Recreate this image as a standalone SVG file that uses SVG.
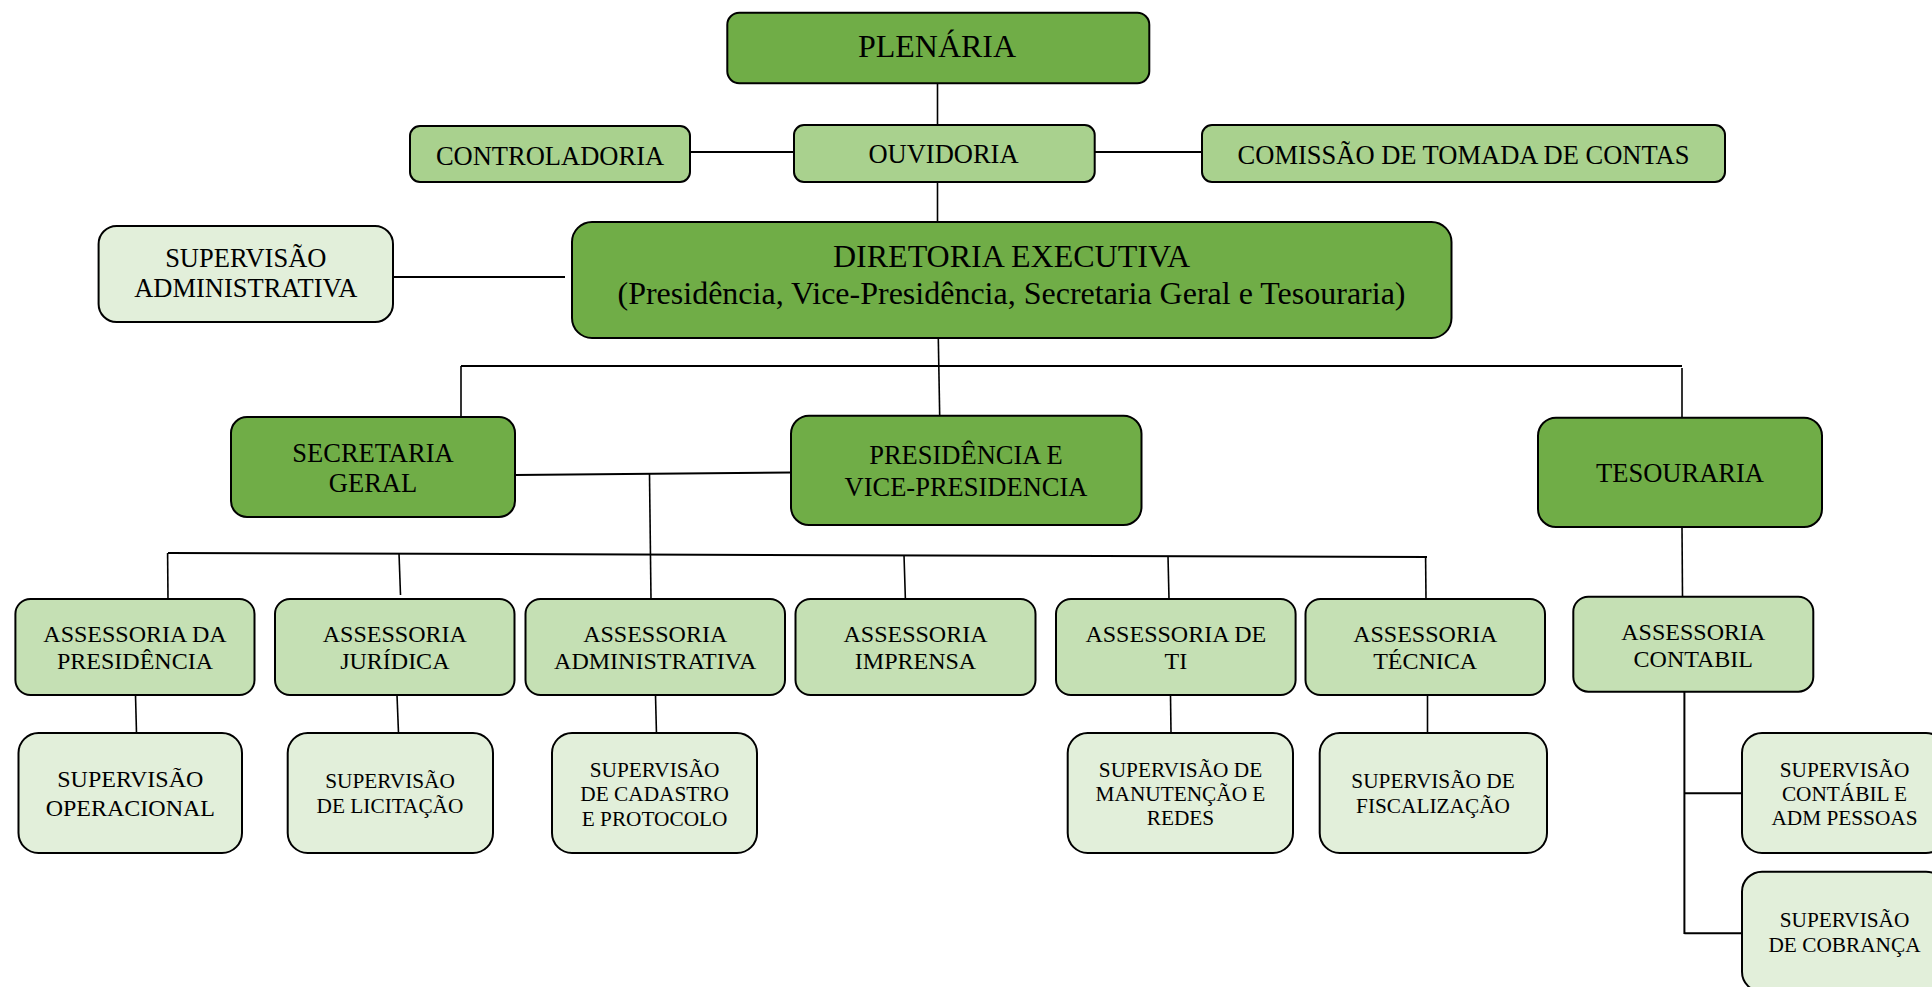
<svg xmlns="http://www.w3.org/2000/svg" width="1932" height="987" viewBox="0 0 1932 987">
<style>
rect{stroke:#000;stroke-width:2}
.g1{fill:#70AD47}
.g2{fill:#A9D18E}
.g3{fill:#C5E0B4}
.g4{fill:#E2EFDA}
text{font-family:"Liberation Serif","Times New Roman",serif;fill:#000;text-anchor:middle}
.f32{font-size:32px}
.f26{font-size:26.5px}
.f24{font-size:24px}
.f21{font-size:21.3px}
#connectors line{stroke:#000;fill:none}
.h{stroke-width:2}
.v{stroke-width:1.6}
</style>
<rect width="1932" height="987" fill="#fff" style="stroke:none"/>
<g id="connectors">
<line class="v" x1="937.5" y1="83" x2="937.5" y2="125"/>
<line class="h" x1="690" y1="152" x2="794" y2="152"/>
<line class="h" x1="1094.5" y1="152" x2="1202" y2="152"/>
<line class="v" x1="937.5" y1="182" x2="937.5" y2="222"/>
<line class="h" x1="393" y1="277" x2="565" y2="277"/>
<line class="v" x1="938.3" y1="338" x2="939.7" y2="415.7"/>
<line class="h" x1="461" y1="366" x2="1682" y2="366"/>
<line class="v" x1="461" y1="366" x2="461" y2="417"/>
<line class="v" x1="1682" y1="368" x2="1682" y2="418"/>
<line class="h" x1="515" y1="475" x2="791" y2="472.5"/>
<line class="v" x1="649.5" y1="474" x2="651" y2="599"/>
<line class="h" x1="168" y1="553" x2="1427" y2="557"/>
<line class="v" x1="167.6" y1="553" x2="168" y2="599"/>
<line class="v" x1="399" y1="553" x2="400.5" y2="595"/>
<line class="v" x1="904" y1="555" x2="905.4" y2="599"/>
<line class="v" x1="1168" y1="556" x2="1169" y2="599"/>
<line class="v" x1="1425.6" y1="557" x2="1426" y2="599"/>
<line class="v" x1="135.5" y1="695" x2="136.5" y2="733"/>
<line class="v" x1="397" y1="695" x2="398.5" y2="733"/>
<line class="v" x1="655.5" y1="695" x2="656.5" y2="735"/>
<line class="v" x1="1170.5" y1="695" x2="1171" y2="733"/>
<line class="v" x1="1427.5" y1="695" x2="1427.5" y2="733"/>
<line class="v" x1="1682" y1="527" x2="1682.5" y2="597"/>
<line class="h" x1="1684.4" y1="692" x2="1684.4" y2="934"/>
<line class="h" x1="1684.4" y1="793.3" x2="1742" y2="793.3"/>
<line class="h" x1="1684.4" y1="933.3" x2="1742" y2="933.3"/>
</g>
<g id="plenaria"><rect class="g1" x="727.3" y="12.7" width="422" height="70.6" rx="12"/><text class="f32" x="937" y="56.7">PLENÁRIA</text></g>
<g id="controladoria"><rect class="g2" x="410" y="126" width="280" height="56" rx="10"/><text class="f26" x="550" y="165">CONTROLADORIA</text></g>
<g id="ouvidoria"><rect class="g2" x="794" y="125" width="300.7" height="57" rx="10"/><text class="f26" x="943.5" y="163.3">OUVIDORIA</text></g>
<g id="comissao"><rect class="g2" x="1202" y="125" width="523" height="57" rx="10"/><text class="f26" x="1463.5" y="164">COMISSÃO DE TOMADA DE CONTAS</text></g>
<g id="sup-administrativa"><rect class="g4" x="98.6" y="226" width="294.4" height="96" rx="18"/><text class="f26" x="245.8" y="267">SUPERVISÃO</text><text class="f26" x="245.8" y="297">ADMINISTRATIVA</text></g>
<g id="diretoria"><rect class="g1" x="572" y="222" width="879.5" height="116" rx="20"/><text class="f32" x="1011.5" y="267">DIRETORIA EXECUTIVA</text><text class="f32" x="1011.5" y="304">(Presidência, Vice-Presidência, Secretaria Geral e Tesouraria)</text></g>
<g id="secretaria"><rect class="g1" x="231" y="417" width="284" height="100" rx="16"/><text class="f26" x="373" y="462">SECRETARIA</text><text class="f26" x="373" y="492">GERAL</text></g>
<g id="presidencia"><rect class="g1" x="791" y="415.7" width="350.5" height="109.3" rx="18"/><text class="f26" x="966" y="464.3">PRESIDÊNCIA E</text><text class="f26" x="966" y="495.7">VICE-PRESIDENCIA</text></g>
<g id="tesouraria"><rect class="g1" x="1538" y="417.7" width="284" height="109.3" rx="18"/><text class="f26" x="1680" y="481.7">TESOURARIA</text></g>
<g id="ass-presidencia"><rect class="g3" x="15.4" y="599" width="239.1" height="96" rx="15"/><text class="f24" x="135" y="641.7">ASSESSORIA DA</text><text class="f24" x="135" y="669.3">PRESIDÊNCIA</text></g>
<g id="ass-juridica"><rect class="g3" x="275" y="599" width="239.5" height="96" rx="15"/><text class="f24" x="394.8" y="641.7">ASSESSORIA</text><text class="f24" x="394.8" y="669.3">JURÍDICA</text></g>
<g id="ass-administrativa"><rect class="g3" x="525.5" y="599" width="259.5" height="96" rx="15"/><text class="f24" x="655.2" y="641.7">ASSESSORIA</text><text class="f24" x="655.2" y="669.3">ADMINISTRATIVA</text></g>
<g id="ass-imprensa"><rect class="g3" x="795.5" y="599" width="240" height="96" rx="15"/><text class="f24" x="915.5" y="641.7">ASSESSORIA</text><text class="f24" x="915.5" y="669.3">IMPRENSA</text></g>
<g id="ass-ti"><rect class="g3" x="1056" y="599" width="239.6" height="96" rx="15"/><text class="f24" x="1175.8" y="641.7">ASSESSORIA DE</text><text class="f24" x="1175.8" y="669.3">TI</text></g>
<g id="ass-tecnica"><rect class="g3" x="1305.5" y="599" width="239.5" height="96" rx="15"/><text class="f24" x="1425.2" y="641.7">ASSESSORIA</text><text class="f24" x="1425.2" y="669.3">TÉCNICA</text></g>
<g id="ass-contabil"><rect class="g3" x="1573.3" y="596.7" width="240" height="95" rx="15"/><text class="f24" x="1693.3" y="640">ASSESSORIA</text><text class="f24" x="1693.3" y="667.3">CONTABIL</text></g>
<g id="sup-operacional"><rect class="g4" x="18.5" y="733" width="223.5" height="120" rx="20"/><text class="f24" x="130.3" y="786.7">SUPERVISÃO</text><text class="f24" x="130.3" y="815.7">OPERACIONAL</text></g>
<g id="sup-licitacao"><rect class="g4" x="287.7" y="733" width="205.3" height="120" rx="20"/><text class="f21" x="390" y="788">SUPERVISÃO</text><text class="f21" x="390" y="813">DE LICITAÇÃO</text></g>
<g id="sup-cadastro"><rect class="g4" x="552" y="733" width="205" height="120" rx="20"/><text class="f21" x="654.6" y="776.7">SUPERVISÃO</text><text class="f21" x="654.6" y="800.7">DE CADASTRO</text><text class="f21" x="654.6" y="825.7">E PROTOCOLO</text></g>
<g id="sup-manutencao"><rect class="g4" x="1067.7" y="733" width="225.3" height="120" rx="20"/><text class="f21" x="1180.5" y="776.7">SUPERVISÃO DE</text><text class="f21" x="1180.5" y="800.7">MANUTENÇÃO E</text><text class="f21" x="1180.5" y="825">REDES</text></g>
<g id="sup-fiscalizacao"><rect class="g4" x="1319.7" y="733" width="227.3" height="120" rx="20"/><text class="f21" x="1433" y="788">SUPERVISÃO DE</text><text class="f21" x="1433" y="813">FISCALIZAÇÃO</text></g>
<g id="sup-contabil"><rect class="g4" x="1742" y="733" width="204" height="120" rx="20"/><text class="f21" x="1844.5" y="776.7">SUPERVISÃO</text><text class="f21" x="1844.5" y="800.7">CONTÁBIL E</text><text class="f21" x="1844.5" y="825">ADM PESSOAS</text></g>
<g id="sup-cobranca"><rect class="g4" x="1742" y="871.7" width="204" height="120" rx="20"/><text class="f21" x="1844.5" y="926.7">SUPERVISÃO</text><text class="f21" x="1844.5" y="951.7">DE COBRANÇA</text></g>
</svg>
